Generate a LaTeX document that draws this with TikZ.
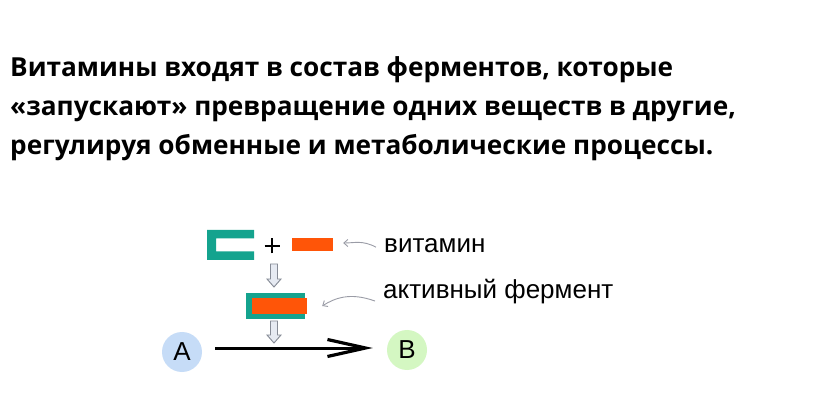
\documentclass[tikz,border=0pt]{standalone}
\usepackage{fontspec}
\setmainfont{Liberation Sans}
\newfontfamily\titlefont{Open Sans}
\usetikzlibrary{arrows.meta}
\definecolor{tealc}{HTML}{14A38E}
\definecolor{orangec}{HTML}{FF5508}
\definecolor{circA}{HTML}{C6DCF7}
\definecolor{circB}{HTML}{D4F7C2}
\definecolor{ptrgray}{HTML}{9A9CA6}
\definecolor{hollowfill}{HTML}{E6EAF2}
\definecolor{hollowdraw}{HTML}{868B96}
\tikzset{
  titleline/.style={anchor=base west, inner sep=0pt, font=\titlefont\bfseries\fontsize{26.2}{31}\selectfont},
  lbl/.style={anchor=base west, inner sep=0pt, font=\fontsize{26}{30}\selectfont},
  circ/.style={circle, minimum size=40pt, inner sep=0pt, font=\fontsize{26}{30}\selectfont},
  ptr/.style={draw=ptrgray, line width=0.9pt, -{Straight Barb[length=4pt,width=7pt]}},
  hollow/.style={draw=hollowdraw, fill=hollowfill, line width=0.9pt, line join=miter},
  orangebar/.style={fill=orangec, draw=none, inner sep=0pt},
}
\begin{document}
\begin{tikzpicture}[x=1pt,y=-1pt]
\useasboundingbox (0,0) rectangle (828,414);
\fill[white] (0,0) rectangle (828,414);
% title
\node[titleline] (t1) at (10,77) {Витамины входят в состав ферментов, которые};
\node[titleline] (t2) at (10,116) {«запускают» превращение одних веществ в другие,};
\node[titleline] (t3) at (10,155) {регулируя обменные и метаболические процессы.};
% teal bracket
\fill[tealc] (207,230) -- (254,230) -- (254,238.5) -- (216,238.5) -- (216,251.5) -- (254,251.5) -- (254,260) -- (207,260) -- cycle;
\coordinate (bracket) at (230,245);
% plus
\node[inner sep=0pt] (plus) at (272,246) {};
\draw[line width=2pt] ([xshift=-7.5pt]plus.center) -- ([xshift=7.5pt]plus.center);
\draw[line width=2pt] ([yshift=-7.5pt]plus.center) -- ([yshift=7.5pt]plus.center);
% orange vitamin
\node[orangebar, minimum width=41pt, minimum height=13pt] (vit) at (312.5,244.5) {};
% arrow 1
\draw[hollow] (270.5,264) -- (277.5,264) -- (277.5,279) -- (281,279) -- (274,287) -- (267,279) -- (270.5,279) -- cycle;
% enzyme
\node[fill=tealc, minimum width=59pt, minimum height=26pt, inner sep=0pt] (enz) at (275.5,306) {};
\node[orangebar, minimum width=55pt, minimum height=16pt] (enzo) at (279.5,306) {};
% arrow 2
\draw[hollow] (270.5,321) -- (277.5,321) -- (277.5,335) -- (281,335) -- (274,343) -- (267,335) -- (270.5,335) -- cycle;
% labels
\node[lbl] (vitl) at (384,253) {витамин};
\node[lbl] (ferml) at (383,299) {активный фермент};
% pointers
\draw[ptr] ([xshift=-8pt,yshift=-1pt]vitl.west) .. controls (362,240) and (355,243) .. ([xshift=10pt,yshift=1.5pt]vit.east);
\draw[ptr] ([xshift=-8pt,yshift=-9pt]ferml.west) .. controls (350,292) and (335,298) .. ([xshift=17pt]enz.east);
% circles
\node[circ, fill=circA] (A) at (182,352) {A};
\node[circ, fill=circB] (B) at (407,350) {B};
\draw[line width=3pt, shorten <=13pt, shorten >=14pt, -{Straight Barb[length=38pt,width=17pt,line width=3.2pt]}] (A.east |- 0,348) -- (B.west |- 0,348);
\end{tikzpicture}
\end{document}
